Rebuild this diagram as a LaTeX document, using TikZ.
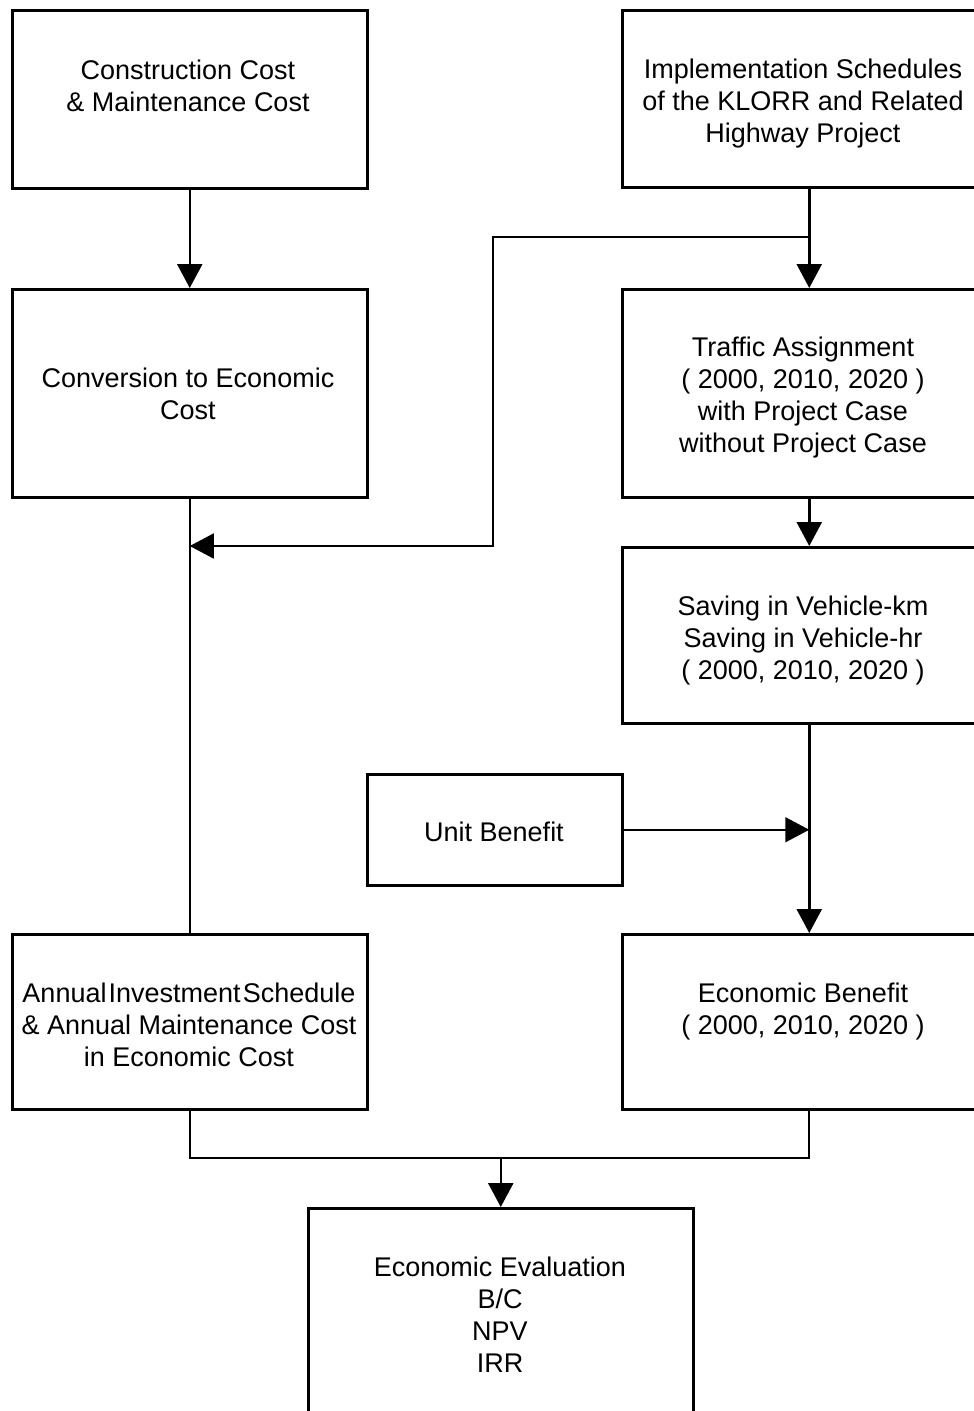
\documentclass[tikz,border=0pt]{standalone}
\usepackage{fontspec}
\setmainfont{Liberation Sans}
\usetikzlibrary{arrows.meta}
\begin{document}
\begin{tikzpicture}[x=1pt,y=-1pt,
  box/.style={draw,line width=2.5pt,inner sep=0pt,anchor=north west},
  txt/.style={align=center,font=\fontsize{27}{32}\selectfont,inner sep=0pt},
  conn/.style={line width=2.5pt},
  thinline/.style={line width=1.6pt},
  tip/.style={-{Triangle[length=24pt,width=25pt]}}]
\useasboundingbox (0,0) rectangle (974,1411);
\clip (0,0) rectangle (974,1411);
\fill[white] (0,0) rectangle (974,1411);
% boxes
\node[box,minimum width=355pt,minimum height=178pt] (b1) at (11,9) {};
\node[box,minimum width=374pt,minimum height=177pt] (b2) at (621,9) {};
\node[box,minimum width=355pt,minimum height=208pt] (b3) at (11,288) {};
\node[box,minimum width=374pt,minimum height=208pt] (b4) at (621,288) {};
\node[box,minimum width=374pt,minimum height=176pt] (b5) at (621,546) {};
\node[box,minimum width=255pt,minimum height=111pt] (b6) at (366,773) {};
\node[box,minimum width=355pt,minimum height=175pt] (b7) at (11,933) {};
\node[box,minimum width=374pt,minimum height=175pt] (b8) at (621,933) {};
\node[box,minimum width=385pt,minimum height=260pt] (b9) at (307,1207) {};
% texts
\node[txt] (t1) at (188,86) {Construction Cost\\\& Maintenance Cost};
\node[txt] (t2) at (803,104) {Implementation Schedules\\of the KLORR and Related\\Highway Project};
\node[txt] (t3) at (188,394) {Conversion to Economic\\Cost};
\node[txt] (t4) at (803,398) {Traffic Assignment\\( 2000, 2010, 2020 )\\with Project Case\\without Project Case};
\node[txt] (t5) at (803,641) {Saving in Vehicle-km\\Saving in Vehicle-hr\\( 2000, 2010, 2020 )};
\node[txt] (t6) at (494,832) {Unit Benefit};
\node[txt] (t7) at (189,1025) {{\spaceskip=0.08em Annual Investment Schedule}\\\& Annual Maintenance Cost\\in Economic Cost};
\node[txt] (t8) at (803,1011) {Economic Benefit\\( 2000, 2010, 2020 )};
\node[txt] (t9) at (500,1315) {Economic Evaluation\\B/C\\NPV\\IRR};
% connectors
\coordinate (j1) at (b2.south |- 0,237);
\coordinate (k1) at (493,237);
\coordinate (k2) at (493,546);
\coordinate (k3) at (b3.south |- 0,546);
\coordinate (m1) at (b5.south |- b6.east);
\coordinate (p1) at (b7.south |- 0,1158);
\coordinate (p2) at (b8.south |- 0,1158);
\coordinate (p3) at (b9.north |- 0,1158);
\draw[conn,tip] (b1.south) -- (b3.north);
\draw[conn,tip] (b2.south) -- (b4.north);
\draw[thinline,tip] (j1) -- (k1) -- (k2) -- (k3);
\draw[conn] (b3.south) -- (b7.north);
\draw[conn,tip] (b4.south) -- (b5.north);
\draw[conn,tip] (b5.south) -- (b8.north);
\draw[thinline,tip] (b6.east) -- (m1);
\draw[line width=2pt] (b7.south) -- (p1) -- (p2) -- (b8.south);
\draw[conn,tip] (p3) -- (b9.north);
\end{tikzpicture}
\end{document}
